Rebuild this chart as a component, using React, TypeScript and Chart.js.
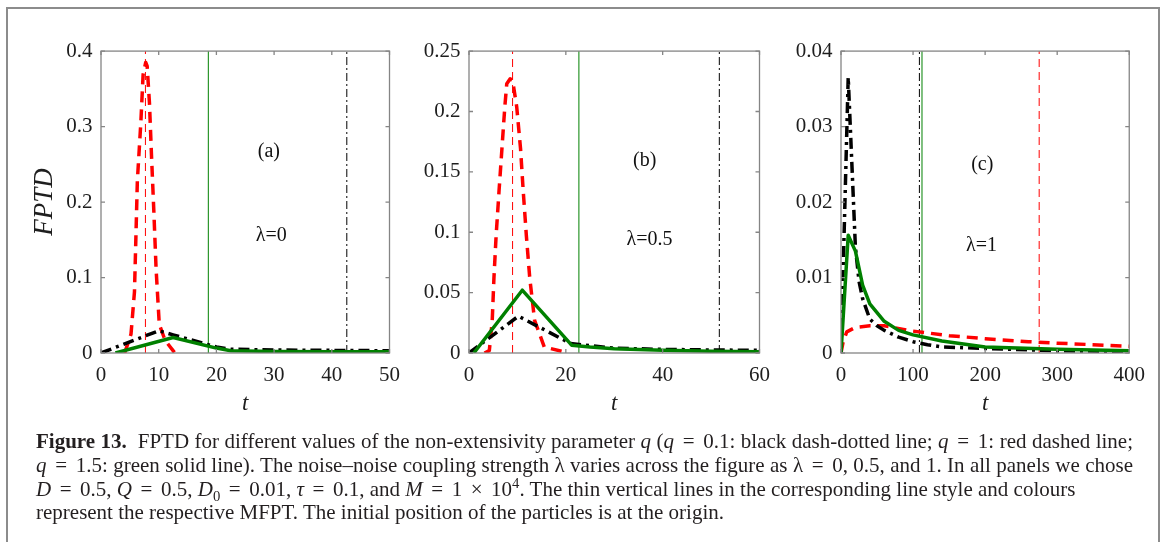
import React, { useEffect, useRef } from 'react';
import { Chart, registerables } from 'chart.js';

Chart.register(...registerables);

// ---------- Panel (a): lambda = 0 ----------
const aBlackT = [0, 10, 12.5, 20, 22.5, 30, 40, 50];
const aBlackY = [0, 0.0295, 0.024, 0.008, 0.005, 0.004, 0.0035, 0.003];
const aRedT = [4.1, 5.2, 5.8, 6.05, 6.3, 6.9, 7.3, 7.75, 8.0, 8.4, 8.75, 9.15, 9.55, 10.1, 11.1, 12.8];
const aRedY = [0, 0.025, 0.081, 0.154, 0.228, 0.305, 0.369, 0.385, 0.38, 0.331, 0.262, 0.189, 0.111, 0.038, 0.017, 0];
const aGreenT = [2.5, 12.5, 20, 22.5, 30, 40, 50];
const aGreenY = [0, 0.0205, 0.0065, 0.003, 0.002, 0.0017, 0.0015];
const aMfpt = [42.6, 7.7, 18.6]; // black, red, green
const aTicksX = [0, 10, 20, 30, 40, 50];
const aTicksY = [0, 0.1, 0.2, 0.3, 0.4];

// ---------- Panel (b): lambda = 0.5 ----------
const bBlackT = [0, 10.2, 21, 30, 40, 50, 60];
const bBlackY = [0, 0.0305, 0.0078, 0.004, 0.003, 0.0025, 0.0022];
const bRedT = [3.2, 4.2, 4.8, 5.15, 5.6, 6.2, 6.8, 7.4, 7.8, 8.5, 9.0, 9.85, 10.65, 11.2, 11.85, 12.55, 13.55, 15.55, 19.6];
const bRedY = [0, 0.002, 0.027, 0.062, 0.097, 0.134, 0.169, 0.204, 0.223, 0.227, 0.226, 0.204, 0.169, 0.134, 0.097, 0.062, 0.027, 0.005, 0.001];
const bGreenT = [1, 11, 21.2, 25, 30, 40, 50, 60];
const bGreenY = [0, 0.052, 0.0065, 0.005, 0.0035, 0.0022, 0.0015, 0.001];
const bMfpt = [51.7, 9.0, 22.7];
const bTicksX = [0, 20, 40, 60];
const bTicksY = [0, 0.05, 0.1, 0.15, 0.2, 0.25];

// ---------- Panel (c): lambda = 1 ----------
const cBlackT = [0, 10, 20, 25, 30, 40, 50, 60, 80, 100, 120, 140, 200, 300, 400];
const cBlackY = [0, 0.0365, 0.014, 0.0095, 0.0072, 0.0045, 0.0036, 0.003, 0.0021, 0.0015, 0.0011, 0.0008, 0.0006, 0.0003, 0.0002];
const cRedT = [0, 3, 8, 20, 40, 60, 100, 150, 200, 260, 300, 400];
const cRedY = [0, 0.0015, 0.0028, 0.0034, 0.0036, 0.0036, 0.0029, 0.0023, 0.0019, 0.0015, 0.0013, 0.0009];
const cGreenT = [0, 10, 20, 30, 40, 60, 80, 100, 140, 200, 300, 400];
const cGreenY = [0, 0.0156, 0.0135, 0.009, 0.0065, 0.0042, 0.003, 0.0024, 0.0016, 0.0008, 0.0005, 0.0003];
const cMfpt = [108.8, 275, 112.4];
const cTicksX = [0, 100, 200, 300, 400];
const cTicksY = [0, 0.01, 0.02, 0.03, 0.04];

const FONT = "'Liberation Serif', 'Times New Roman', serif";
const BLACK = '#000000';
const RED = '#ff0000';
const GREEN = '#008000';

const zip = (t: number[], y: number[]) => t.map((v, i) => ({ x: v, y: y[i] }));

type Panel = {
  left: number; width: number; yAxisW: number; padRight: number;
  xMax: number; yMax: number; xTicks: number[]; yTicks: number[];
  black: [number[], number[]]; red: [number[], number[]]; green: [number[], number[]];
  mfpt: number[]; notes: { text: string; x: number; y: number }[]; yTitle: boolean;
};

const panels: Panel[] = [
  {
    left: 0, width: 410, yAxisW: 101, padRight: 14, xMax: 50, yMax: 0.4,
    xTicks: aTicksX, yTicks: aTicksY,
    black: [aBlackT, aBlackY], red: [aRedT, aRedY], green: [aGreenT, aGreenY], mfpt: aMfpt,
    notes: [{ text: '(a)', x: 29.1, y: 0.266 }, { text: 'λ=0', x: 29.5, y: 0.156 }], yTitle: true,
  },
  {
    left: 410, width: 370, yAxisW: 59, padRight: 12, xMax: 60, yMax: 0.25,
    xTicks: bTicksX, yTicks: bTicksY,
    black: [bBlackT, bBlackY], red: [bRedT, bRedY], green: [bGreenT, bGreenY], mfpt: bMfpt,
    notes: [{ text: '(b)', x: 36.3, y: 0.159 }, { text: 'λ=0.5', x: 37.3, y: 0.0938 }], yTitle: false,
  },
  {
    left: 780, width: 375, yAxisW: 61, padRight: 15, xMax: 400, yMax: 0.04,
    xTicks: cTicksX, yTicks: cTicksY,
    black: [cBlackT, cBlackY], red: [cRedT, cRedY], green: [cGreenT, cGreenY], mfpt: cMfpt,
    notes: [{ text: '(c)', x: 196, y: 0.0249 }, { text: 'λ=1', x: 195, y: 0.01423 }], yTitle: false,
  },
];

const CANVAS_TOP = 30;
const CANVAS_H = 400;

const boxPlugin = {
  id: 'matlabBox',
  afterDatasetsDraw(chart: any, _args: any, opts: any) {
    const { ctx, chartArea, scales } = chart;
    const { left, right, top, bottom } = chartArea;
    const x = scales.x;
    const y = scales.y;
    ctx.save();
    ctx.strokeStyle = '#858585';
    ctx.lineWidth = 1.3;
    ctx.setLineDash([]);
    ctx.strokeRect(left, top, right - left, bottom - top);
    ctx.beginPath();
    const tl = 4;
    x.ticks.forEach((t: any) => {
      const px = x.getPixelForValue(t.value);
      ctx.moveTo(px, bottom); ctx.lineTo(px, bottom - tl);
      ctx.moveTo(px, top); ctx.lineTo(px, top + tl);
    });
    y.ticks.forEach((t: any) => {
      const py = y.getPixelForValue(t.value);
      ctx.moveTo(left, py); ctx.lineTo(left + tl, py);
      ctx.moveTo(right, py); ctx.lineTo(right - tl, py);
    });
    ctx.stroke();
    ctx.fillStyle = '#111';
    ctx.font = `20px ${FONT}`;
    ctx.textAlign = 'center';
    ctx.textBaseline = 'middle';
    (opts.notes || []).forEach((n: any) => {
      ctx.fillText(n.text, x.getPixelForValue(n.x), y.getPixelForValue(n.y));
    });
    ctx.restore();
  },
};

function PanelChart({ p }: { p: Panel }) {
  const ref = useRef<HTMLCanvasElement | null>(null);
  useEffect(() => {
    if (!ref.current) return;
    const vline = (m: number, color: string, dash: number[]) => ({
      data: [{ x: m, y: 0 }, { x: m, y: p.yMax }],
      borderColor: color, borderWidth: 1, borderDash: dash, pointRadius: 0, fill: false,
    });
    const chart = new Chart(ref.current, {
      type: 'line',
      data: {
        datasets: [
          { label: 'q=1.5', data: zip(p.green[0], p.green[1]), borderColor: GREEN, borderWidth: 3.5, pointRadius: 0, borderJoinStyle: 'round', fill: false },
          { label: 'q=0.1', data: zip(p.black[0], p.black[1]), borderColor: BLACK, borderWidth: 3.5, borderDash: [11, 5, 3, 5], pointRadius: 0, borderJoinStyle: 'round', fill: false },
          { label: 'q=1', data: zip(p.red[0], p.red[1]), borderColor: RED, borderWidth: 3.5, borderDash: [11, 7], pointRadius: 0, borderJoinStyle: 'round', fill: false },
          vline(p.mfpt[0], BLACK, [8, 3, 2, 3]),
          vline(p.mfpt[1], RED, [8, 5]),
          vline(p.mfpt[2], GREEN, []),
        ] as any,
      },
      options: {
        animation: false,
        responsive: false,
        maintainAspectRatio: false,
        parsing: false as any,
        layout: { padding: { left: 0, top: 13, right: p.padRight, bottom: 0 } },
        elements: { line: { tension: 0 }, point: { radius: 0 } },
        plugins: {
          legend: { display: false },
          tooltip: { enabled: false },
          matlabBox: { notes: p.notes },
        } as any,
        scales: {
          x: {
            type: 'linear', min: 0, max: p.xMax,
            grid: { display: false, drawTicks: false },
            border: { display: false },
            afterBuildTicks: (s: any) => { s.ticks = p.xTicks.map((v) => ({ value: v })); },
            afterFit: (s: any) => { s.height = CANVAS_H - (353 - CANVAS_TOP); },
            ticks: {
              padding: 10, color: '#1e1e1e', maxRotation: 0, autoSkip: false,
              font: { family: FONT, size: 21 },
              callback: (v: any) => String(v),
            },
            title: {
              display: true, text: 't', color: '#1e1e1e',
              font: { family: FONT, size: 23, style: 'italic' },
              padding: { top: 0, bottom: 12 },
            },
          },
          y: {
            type: 'linear', min: 0, max: p.yMax,
            grid: { display: false, drawTicks: false },
            border: { display: false },
            afterBuildTicks: (s: any) => { s.ticks = p.yTicks.map((v) => ({ value: v })); },
            afterFit: (s: any) => { s.width = p.yAxisW; },
            ticks: {
              padding: 8.5, color: '#1e1e1e', autoSkip: false,
              font: { family: FONT, size: 21 },
              callback: (v: any) => String(v),
            },
            title: {
              display: p.yTitle, text: 'FPTD', color: '#1e1e1e',
              font: { family: FONT, size: 27, style: 'italic' },
              padding: { top: 29, bottom: 0 },
            },
          },
        },
      } as any,
      plugins: [boxPlugin],
    });
    return () => chart.destroy();
  }, [p]);
  return (
    <canvas
      ref={ref}
      width={p.width}
      height={CANVAS_H}
      style={{ position: 'absolute', left: p.left, top: CANVAS_TOP, width: p.width, height: CANVAS_H }}
    />
  );
}

const subStyle = { fontSize: '0.7em', lineHeight: 0 };
const Op = ({ c }: { c: string }) => <span style={{ margin: '0 3.3px' }}>{c}</span>;

const captionLines = [
  <>
    <b>Figure 13.</b>&nbsp; FPTD for different values of the non-extensivity parameter <i>q</i> (<i>q</i> <Op c="=" /> 0.1: black dash-dotted line; <i>q</i> <Op c="=" /> 1: red dashed line;
  </>,
  <>
    <i>q</i> <Op c="=" /> 1.5: green solid line). The noise–noise coupling strength λ varies across the figure as λ <Op c="=" /> 0, 0.5, and 1. In all panels we chose
  </>,
  <>
    <i>D</i> <Op c="=" /> 0.5, <i>Q</i> <Op c="=" /> 0.5, <i>D</i><sub style={subStyle}>0</sub> <Op c="=" /> 0.01, <i>τ</i> <Op c="=" /> 0.1, and <i>M</i> <Op c="=" /> 1 <Op c="×" /> 10<sup style={subStyle}>4</sup>. The thin vertical lines in the corresponding line style and colours
  </>,
  <>represent the respective MFPT. The initial position of the particles is at the origin.</>,
];

export default function App() {
  return (
    <div style={{ position: 'absolute', left: 0, top: 0, width: 1168, height: 542, background: '#fff', overflow: 'hidden' }}>
      <div style={{ position: 'absolute', left: 6, top: 7, width: 1150, height: 560, borderLeft: '2px solid #8c8c8c', borderTop: '2px solid #8c8c8c', borderRight: '2px solid #8c8c8c' }} />
      {panels.map((p, i) => <PanelChart key={i} p={p} />)}
      {captionLines.map((line, i) => (
        <div
          key={i}
          style={{
            position: 'absolute', left: 36, top: 429.2 + i * 23.7, width: 1097,
            font: `21px ${FONT}`, lineHeight: '24px', color: '#231f20', whiteSpace: 'nowrap',
            textAlign: i < 2 ? 'justify' : 'left', textAlignLast: i < 2 ? 'justify' : 'left',
          } as any}
        >
          {line}
        </div>
      ))}
    </div>
  );
}
